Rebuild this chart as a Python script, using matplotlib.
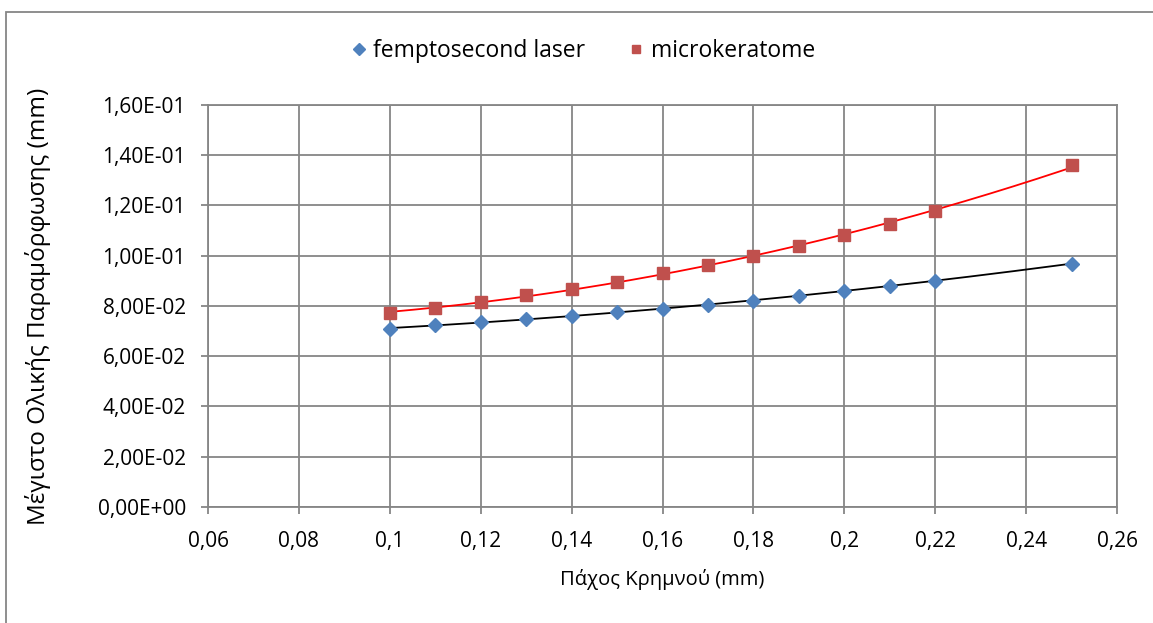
import matplotlib
matplotlib.use('Agg')
import matplotlib.pyplot as plt
from matplotlib.ticker import FuncFormatter, MultipleLocator
from matplotlib.patches import Rectangle
import numpy as np

plt.rcParams['font.family'] = ['Open Sans', 'DejaVu Sans']

# flap thickness (mm)
thickness = [0.10, 0.11, 0.12, 0.13, 0.14, 0.15, 0.16, 0.17, 0.18, 0.19, 0.20, 0.21, 0.22, 0.25]
# max total deformation (mm)
femto = [0.0710, 0.0723, 0.0735, 0.0747, 0.0762, 0.0775, 0.0789, 0.0805, 0.0821,
         0.0841, 0.0859, 0.0880, 0.0901, 0.0969]
micro = [0.0771, 0.0791, 0.0815, 0.0843, 0.0868, 0.0897, 0.0933, 0.0963, 0.0999,
         0.1039, 0.1081, 0.1125, 0.1177, 0.1360]

x = np.array(thickness)

fig = plt.figure(figsize=(11.53, 6.23), dpi=100)
ax = fig.add_axes([0.1804, 0.1862, 0.7884, 0.6453])

# trendlines (2nd order polynomial like Excel)
xs = np.linspace(x.min(), x.max(), 200)
pf = np.polyfit(x, femto, 2)
pm = np.polyfit(x, micro, 2)
ax.plot(xs, np.polyval(pf, xs), color='black', lw=1.3, zorder=2)
ax.plot(xs, np.polyval(pm, xs), color='red', lw=1.3, zorder=2)

ax.plot(x, femto, linestyle='none', marker='D', markersize=7.5, color='#4F81BD',
        label='femptosecond laser', zorder=3)
ax.plot(x, micro, linestyle='none', marker='s', markersize=8.5, color='#C0504D',
        label='microkeratome', zorder=3)

ax.set_xlim(0.06, 0.26)
ax.set_ylim(0, 0.16)
ax.xaxis.set_major_locator(MultipleLocator(0.02))
ax.yaxis.set_major_locator(MultipleLocator(0.02))
ax.xaxis.set_major_formatter(FuncFormatter(lambda v, p: f'{v:g}'.replace('.', ',')))
ax.yaxis.set_major_formatter(FuncFormatter(lambda v, p: f'{v:.2E}'.replace('.', ',')))

ax.grid(True, color='#868686', lw=1.3)
ax.set_axisbelow(True)
for s in ax.spines.values():
    s.set_color('#868686')
    s.set_linewidth(1.3)
ax.tick_params(direction='out', length=5, color='#868686', width=1.3, labelsize=15)
ax.tick_params(axis='y', pad=11)
ax.tick_params(axis='x', pad=12)

ax.set_xlabel('Πάχος Κρημνού (mm)', fontsize=14.5, va='center')
ax.set_ylabel('Μέγιστο Ολικής Παραμόρφωσης (mm)', fontsize=17.5, va='center')
ax.xaxis.set_label_coords(0.5, -0.18)
ax.yaxis.set_label_coords(-0.187, 0.5)

fig.legend(loc='center', bbox_to_anchor=(0.503, 0.918), ncol=2, frameon=False,
           fontsize=16.5, handletextpad=0.05, handlelength=1.2, columnspacing=1.6,
           markerscale=0.75)

fig.patches.append(Rectangle((0.005, -0.01), 1.02, 0.991, transform=fig.transFigure,
                             fill=False, edgecolor='#868686', lw=1.3))

fig.savefig('out.png', dpi=100)
